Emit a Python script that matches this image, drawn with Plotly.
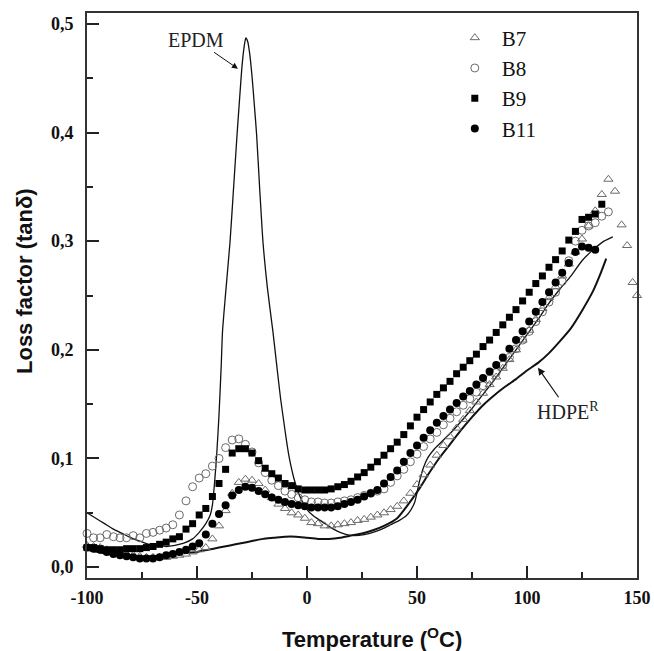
import plotly.graph_objects as go

# ---------------- data ----------------
T_GRID = [-100, -97, -94, -91, -88, -85, -82, -79, -76, -73, -70, -67, -64, -61, -58, -55,
          -52, -49, -46, -43, -40, -37, -34, -31, -28, -25, -22, -19, -16, -13, -10, -7,
          -4, -1, 2, 5, 8, 11, 14, 17, 20, 23, 26, 29, 32, 35, 38, 41, 44, 47, 50, 53,
          56, 59, 62, 65, 68, 71, 74, 77, 80, 83, 86, 89, 92, 95, 98, 101, 104, 107, 110,
          113, 116, 119, 122, 125, 128, 131, 134]

B7_T = T_GRID + [137, 140, 143, 145.5, 148, 150]
B7 = [0.020, 0.019, 0.018, 0.016, 0.015, 0.014, 0.012, 0.011, 0.010, 0.009, 0.009, 0.009,
      0.009, 0.010, 0.011, 0.012, 0.014, 0.016, 0.018, 0.026, 0.038, 0.052, 0.068, 0.078,
      0.081, 0.080, 0.077, 0.071, 0.064, 0.058, 0.054, 0.050, 0.048, 0.045, 0.041, 0.040,
      0.038, 0.038, 0.039, 0.040, 0.041, 0.043, 0.044, 0.046, 0.048, 0.050, 0.053, 0.056,
      0.061, 0.068, 0.076, 0.085, 0.094, 0.103, 0.112, 0.120, 0.128, 0.136, 0.144, 0.152,
      0.160, 0.168, 0.175, 0.183, 0.191, 0.200, 0.209, 0.218, 0.228, 0.238, 0.248, 0.258,
      0.268, 0.279, 0.290, 0.302, 0.314, 0.328, 0.343,
      0.357, 0.346, 0.315, 0.296, 0.262, 0.250]

B8_T = T_GRID + [137]
B8 = [0.031, 0.027, 0.027, 0.030, 0.028, 0.027, 0.027, 0.029, 0.027, 0.031, 0.032, 0.034,
      0.036, 0.039, 0.048, 0.061, 0.074, 0.082, 0.086, 0.093, 0.100, 0.110, 0.117, 0.118,
      0.113, 0.106, 0.096, 0.087, 0.080, 0.075, 0.070, 0.067, 0.064, 0.062, 0.060, 0.060,
      0.059, 0.059, 0.060, 0.061, 0.062, 0.064, 0.066, 0.068, 0.070, 0.072, 0.078, 0.084,
      0.090, 0.097, 0.104, 0.111, 0.118, 0.124, 0.131, 0.137, 0.143, 0.149, 0.155, 0.161,
      0.167, 0.173, 0.179, 0.186, 0.193, 0.201, 0.209, 0.217, 0.226, 0.235, 0.244, 0.253,
      0.263, 0.282, 0.300, 0.310, 0.314, 0.317, 0.323,
      0.327]

B9_T = T_GRID
B9 = [0.018, 0.018, 0.017, 0.016, 0.016, 0.016, 0.017, 0.017, 0.017, 0.018, 0.019, 0.021,
      0.023, 0.026, 0.028, 0.035, 0.040, 0.048, 0.054, 0.065, 0.077, 0.090, 0.105, 0.109,
      0.109, 0.105, 0.098, 0.091, 0.086, 0.082, 0.077, 0.075, 0.072, 0.071, 0.071, 0.071,
      0.071, 0.072, 0.074, 0.076, 0.079, 0.083, 0.087, 0.092, 0.097, 0.103, 0.109, 0.115,
      0.122, 0.130, 0.138, 0.145, 0.152, 0.159, 0.165, 0.171, 0.178, 0.184, 0.190, 0.196,
      0.203, 0.209, 0.216, 0.223, 0.230, 0.237, 0.245, 0.253, 0.261, 0.268, 0.276, 0.283,
      0.291, 0.301, 0.309, 0.320, 0.322, 0.325, 0.334]

B11_T = T_GRID[:-1]
B11 = [0.018, 0.017, 0.016, 0.014, 0.012, 0.011, 0.010, 0.009, 0.008, 0.008, 0.008, 0.009,
       0.011, 0.012, 0.014, 0.016, 0.019, 0.022, 0.030, 0.040, 0.049, 0.057, 0.066, 0.071,
       0.074, 0.073, 0.070, 0.067, 0.064, 0.062, 0.060, 0.058, 0.057, 0.056, 0.055, 0.055,
       0.055, 0.055, 0.056, 0.058, 0.060, 0.062, 0.065, 0.068, 0.071, 0.077, 0.083, 0.089,
       0.097, 0.105, 0.112, 0.119, 0.126, 0.133, 0.139, 0.145, 0.151, 0.157, 0.162, 0.168,
       0.174, 0.180, 0.186, 0.193, 0.201, 0.209, 0.217, 0.226, 0.235, 0.244, 0.253, 0.262,
       0.271, 0.280, 0.290, 0.295, 0.294, 0.292]

EPDM_T = [-100, -96, -92, -88, -84, -80, -76, -72, -68, -64, -60, -56, -52, -49, -46, -44,
          -43, -42, -41, -40, -39, -38.4, -37, -35, -33.5, -31.8, -30.5, -29.5, -28.5, -27.8,
          -27, -26, -25, -24, -22.9, -21.5, -20, -18, -15.5, -14, -12, -10, -9, -8, -6, -4,
          -2, 0, 3, 6, 9, 12, 15, 18, 22, 26, 30, 34, 38, 42, 45, 47, 49, 51, 53, 55, 58,
          62, 66, 70, 75, 80, 85, 90, 95, 100, 105, 110, 115, 120, 125, 130, 135, 139]
EPDM = [0.050, 0.045, 0.040, 0.035, 0.031, 0.027, 0.024, 0.021, 0.020, 0.019, 0.020, 0.022,
        0.026, 0.032, 0.040, 0.048, 0.057, 0.078, 0.105, 0.140, 0.185, 0.217, 0.252, 0.299,
        0.345, 0.398, 0.435, 0.462, 0.480, 0.487, 0.484, 0.472, 0.452, 0.427, 0.398, 0.348,
        0.299, 0.257, 0.217, 0.190, 0.155, 0.126, 0.112, 0.100, 0.082, 0.069, 0.060, 0.053,
        0.047, 0.043, 0.039, 0.035, 0.032, 0.030, 0.029, 0.030, 0.032, 0.035, 0.039, 0.043,
        0.047, 0.052, 0.060, 0.078, 0.092, 0.101, 0.109, 0.117, 0.125, 0.134, 0.146, 0.159,
        0.172, 0.186, 0.200, 0.214, 0.228, 0.243, 0.256, 0.268, 0.282, 0.292, 0.300, 0.304]

HDPE_T = [-100, -95, -90, -85, -80, -75, -70, -65, -60, -55, -50, -45, -40, -35, -30, -25,
          -20, -15, -10, -5, 0, 5, 10, 15, 20, 25, 30, 35, 41, 45, 51, 55, 60, 65, 70, 75,
          80, 85, 90, 95, 100, 105, 110, 115, 120, 125, 130, 133, 136]
HDPE = [0.016, 0.014, 0.012, 0.011, 0.010, 0.010, 0.010, 0.011, 0.012, 0.013, 0.014, 0.016,
        0.018, 0.020, 0.022, 0.024, 0.026, 0.027, 0.028, 0.028, 0.027, 0.026, 0.026, 0.027,
        0.029, 0.031, 0.034, 0.038, 0.045, 0.055, 0.072, 0.085, 0.100, 0.113, 0.126, 0.138,
        0.149, 0.158, 0.166, 0.173, 0.181, 0.188, 0.197, 0.208, 0.220, 0.236, 0.254, 0.268,
        0.284]

X_TICKS = [-100, -50, 0, 50, 100, 150]
Y_TICKS = [0.0, 0.1, 0.2, 0.3, 0.4, 0.5]
Y_TICK_TEXT = ["0,0", "0,1", "0,2", "0,3", "0,4", "0,5"]

# ---------------- figure ----------------
fig = go.Figure()

fig.add_trace(go.Scatter(x=EPDM_T, y=EPDM, mode="lines", showlegend=False,
                         line=dict(color="#111", width=1.3, shape="spline", smoothing=0.6),
                         hoverinfo="skip"))
fig.add_trace(go.Scatter(x=HDPE_T, y=HDPE, mode="lines", showlegend=False,
                         line=dict(color="#111", width=2.0, shape="spline", smoothing=0.6),
                         hoverinfo="skip"))

gray = "#6a6a6a"
fig.add_trace(go.Scatter(x=B7_T, y=B7, mode="markers", name="B7",
                         cliponaxis=False,
                         marker=dict(symbol="triangle-up-open", size=8, color=gray,
                                     line=dict(width=1, color=gray))))
fig.add_trace(go.Scatter(x=B8_T, y=B8, mode="markers", name="B8",
                         cliponaxis=False,
                         marker=dict(symbol="circle-open", size=8, color=gray,
                                     line=dict(width=1, color=gray))))
fig.add_trace(go.Scatter(x=B9_T, y=B9, mode="markers", name="B9",
                         cliponaxis=False,
                         marker=dict(symbol="square", size=7, color="#000")))
fig.add_trace(go.Scatter(x=B11_T, y=B11, mode="markers", name="B11",
                         cliponaxis=False,
                         marker=dict(symbol="circle", size=8, color="#000")))

tickfont = dict(family="Liberation Serif", size=18, color="#111", weight="bold")

fig.update_layout(
    width=654, height=651,
    margin=dict(l=87, r=17, t=13, b=73),
    plot_bgcolor="white", paper_bgcolor="white",
    xaxis=dict(range=[-100, 150], tickvals=X_TICKS, ticktext=[str(v) for v in X_TICKS],
               ticks="inside", ticklen=12, tickwidth=1.5, tickcolor="#222",
               minor=dict(dtick=25, tick0=-100, ticks="inside", ticklen=6, tickwidth=1.5,
                          tickcolor="#222", showgrid=False),
               showline=True, linecolor="#333", linewidth=2, mirror=True,
               showgrid=False, zeroline=False, tickfont=tickfont, ticklabelstandoff=2,
               automargin=False),
    yaxis=dict(range=[-0.01, 0.51], tickvals=Y_TICKS, ticktext=Y_TICK_TEXT,
               ticks="inside", ticklen=12, tickwidth=1.5, tickcolor="#222",
               minor=dict(dtick=0.05, tick0=0, ticks="inside", ticklen=6, tickwidth=1.5,
                          tickcolor="#222", showgrid=False),
               showline=True, linecolor="#333", linewidth=2, mirror=True,
               showgrid=False, zeroline=False, tickfont=tickfont, ticklabelstandoff=8,
               automargin=False),
    legend=dict(x=0.656, y=0.992, xanchor="left", yanchor="top", bgcolor="rgba(0,0,0,0)",
                font=dict(family="Liberation Serif", size=21, color="#111"),
                tracegroupgap=0, itemwidth=44),
    showlegend=True,
)

fig.add_annotation(text="Loss factor (tanδ)", xref="paper", yref="paper",
                   x=-0.1127, y=0.5257, xanchor="center", yanchor="middle",
                   textangle=-90, showarrow=False,
                   font=dict(family="Liberation Sans", size=22, color="#111", weight="bold"))
fig.add_annotation(text="Temperature (<sup>O</sup>C)", xref="paper", yref="paper",
                   x=0.518, y=-0.106, xanchor="center", yanchor="middle", showarrow=False,
                   font=dict(family="Liberation Sans", size=22, color="#111", weight="bold"))

fig.add_annotation(text="EPDM", x=-31.4, y=0.4587, xref="x", yref="y",
                   ax=-42, ay=-29, showarrow=True, arrowhead=2, arrowsize=1.2,
                   arrowwidth=1, arrowcolor="#111",
                   font=dict(family="Liberation Serif", size=20, color="#222"))
fig.add_annotation(text="HDPE<sup>R</sup>", x=105, y=0.1835, xref="x", yref="y",
                   ax=30, ay=43, showarrow=True, arrowhead=2, arrowsize=1.2,
                   arrowwidth=1.2, arrowcolor="#111",
                   font=dict(family="Liberation Serif", size=20, color="#222"))

fig.write_html("out.html", config={"displayModeBar": False},
               post_script="document.body.style.margin='0';"
                           "document.body.style.overflow='hidden';")
